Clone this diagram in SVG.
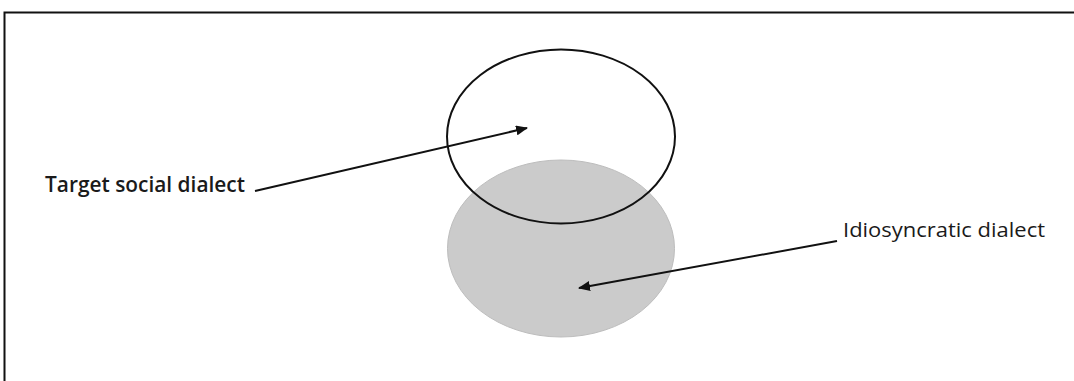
<svg xmlns="http://www.w3.org/2000/svg" width="1074" height="381" viewBox="0 0 1074 381">
<style>
.lbl{font-family:"Open Sans","Liberation Sans",sans-serif;fill:#1a1a1a}
.conn{stroke:#111;stroke-width:2;fill:none}
</style>
<defs>
<marker id="ah" viewBox="0 0 12 10" refX="11" refY="5" markerWidth="12" markerHeight="10" markerUnits="userSpaceOnUse" orient="auto">
<path d="M0,0 L12,5 L0,10 Z" fill="#111"/>
</marker>
</defs>
<rect width="1074" height="381" fill="#fff"/>
<path d="M4.5,381 V12.5 H1074" fill="none" stroke="#111" stroke-width="2"/>
<g id="idiosyncratic">
<ellipse cx="561" cy="248.5" rx="113.5" ry="88.5" fill="#cbcbcb" stroke="#bdbdbd" stroke-width="1"/>
</g>
<g id="target">
<ellipse cx="561" cy="136.5" rx="114" ry="87" fill="none" stroke="#111" stroke-width="2"/>
</g>
<g id="label-target">
<text class="lbl" x="45" y="191.5" font-size="22" font-weight="600" textLength="200" lengthAdjust="spacingAndGlyphs">Target social dialect</text>
</g>
<g id="label-idio">
<text class="lbl" x="843" y="236.5" font-size="20.5" textLength="202" lengthAdjust="spacingAndGlyphs">Idiosyncratic dialect</text>
</g>
<g id="connectors">
<line class="conn" x1="255" y1="191" x2="527" y2="128" marker-end="url(#ah)"/>
<line class="conn" x1="837" y1="241" x2="579" y2="288" marker-end="url(#ah)"/>
</g>
</svg>
